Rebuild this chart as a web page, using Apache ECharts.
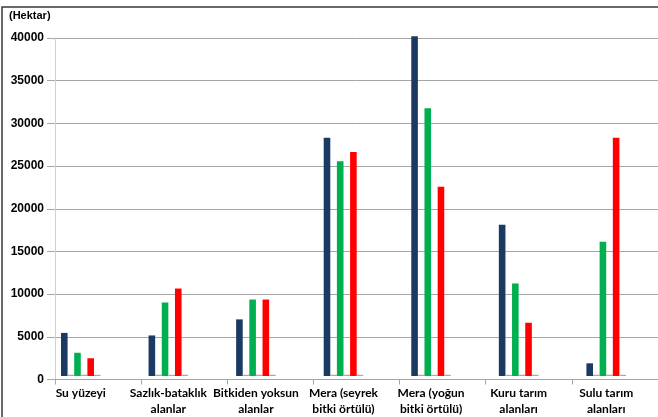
<!DOCTYPE html>
<html>
<head>
<meta charset="utf-8">
<script src="https://cdn.jsdelivr.net/npm/echarts@6/dist/echarts.min.js"></script>
<style>
  html, body { margin: 0; padding: 0; background: #fff; }
  #chart { width: 658px; height: 417px; }
</style>
</head>
<body>
<div id="chart"></div>
<script>
// Arazi kullanım sınıfları (hektar)
const categories = [
  'Su yüzeyi',
  'Sazlık-bataklık\nalanlar',
  'Bitkiden yoksun\nalanlar',
  'Mera (seyrek\nbitki örtülü)',
  'Mera (yoğun\nbitki örtülü)',
  'Kuru tarım\nalanları',
  'Sulu tarım\nalanları'
];

// Alan değerleri, üç dönem
const navyValues  = [5100, 4800, 6700, 28200, 40200, 17900, 1500];
const greenValues = [2750, 8700, 9050, 25400, 31700, 10950, 15900];
const redValues   = [2100, 10350, 9050, 26500, 22400, 6300, 28200];

// Taban çizgisindeki çok küçük sütunlar
const tanValuesA = [150, 150, 140, 150, 150, 140, 150];
const tanValuesB = [150, 140, 150, 150, 140, 150, 150];
const tanValuesC = [140, 150, 150, 140, 150, 150, 140];

const yTicks = { min: 0, max: 40000, interval: 5000 };

const palette = {
  navy: '#1b3a63',
  green: '#00b050',
  red: '#ff0000',
  tan: '#c9a37e',
  grid: '#a6a6a6'
};

const chart = echarts.init(document.getElementById('chart'), null, { renderer: 'canvas' });

const plotTop = 38, plotBottom = 37.5, plotWidth = 613;

function barSeries(name, data, color) {
  return {
    name: name,
    type: 'bar',
    xAxisIndex: 1,
    yAxisIndex: 1,
    data: data,
    barWidth: 6.6,
    barGap: '0%',
    clip: false,
    itemStyle: { color: color },
    emphasis: { disabled: true }
  };
}

chart.setOption({
  animation: false,
  backgroundColor: '#ffffff',
  textStyle: { fontFamily: 'Liberation Sans' },
  grid: [
    { left: 55, top: plotTop, bottom: plotBottom, width: plotWidth, containLabel: false },
    { left: 37, top: plotTop, bottom: plotBottom, width: plotWidth, containLabel: false }
  ],
  xAxis: [
    {
      // eksen çizgisi ve sınıf aralığı çentikleri
      type: 'value',
      gridIndex: 0,
      min: 0, max: categories.length, interval: 1,
      axisLine: { show: true, lineStyle: { color: palette.grid, width: 1 } },
      axisTick: { show: true, length: 5, lineStyle: { color: palette.grid } },
      axisLabel: { show: false },
      splitLine: { show: false }
    },
    {
      type: 'category',
      gridIndex: 1,
      data: categories,
      axisLine: { show: false },
      axisTick: { show: false },
      axisLabel: {
        interval: 0,
        margin: 9,
        color: '#000',
        fontFamily: 'Lato',
        fontWeight: 'bold',
        fontSize: 12,
        lineHeight: 16
      }
    }
  ],
  yAxis: [
    {
      type: 'value',
      gridIndex: 0,
      min: yTicks.min, max: yTicks.max, interval: yTicks.interval,
      axisLine: { show: true, lineStyle: { color: '#d0d0d0', width: 1 } },
      axisTick: { show: true, length: 8, lineStyle: { color: palette.grid } },
      axisLabel: {
        color: '#000',
        fontWeight: 'bold',
        fontSize: 12,
        margin: 11,
        fontFamily: 'Liberation Sans',
        formatter: function (v) { return String(v); }
      },
      splitLine: { show: true, lineStyle: { color: palette.grid, width: 1 } }
    },
    {
      type: 'value',
      gridIndex: 1,
      min: yTicks.min, max: yTicks.max, interval: yTicks.interval,
      show: false,
      splitLine: { show: false }
    }
  ],
  series: [
    barSeries('A', navyValues, palette.navy),
    barSeries('A2', tanValuesA, palette.tan),
    barSeries('B', greenValues, palette.green),
    barSeries('B2', tanValuesB, palette.tan),
    barSeries('C', redValues, palette.red),
    barSeries('C2', tanValuesC, palette.tan)
  ],
  graphic: [
    {
      type: 'rect',
      shape: { x: 2, y: 7, width: 720, height: 500 },
      style: { fill: 'none', stroke: '#3a3a3a', lineWidth: 1.5 },
      silent: true,
      z: 100
    },
    {
      type: 'text',
      left: 9, top: 10,
      style: {
        text: '(Hektar)',
        fill: '#000',
        font: 'bold 11px "Liberation Sans"'
      }
    }
  ]
});
</script>
</body>
</html>
